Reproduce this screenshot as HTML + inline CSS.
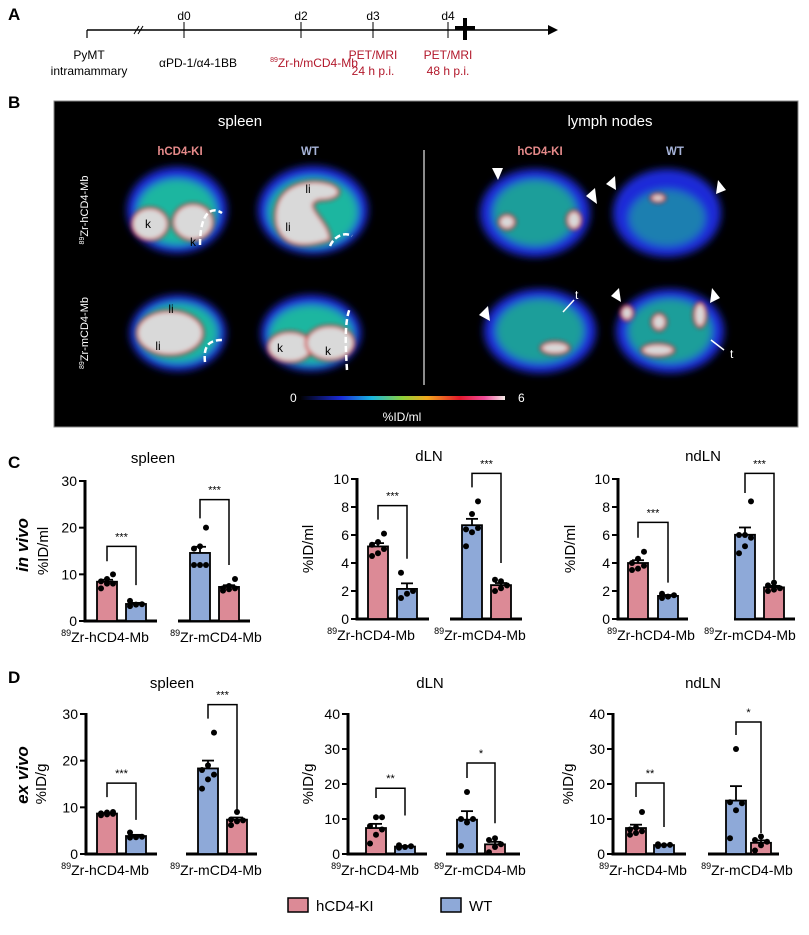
<!DOCTYPE html>
<html><head><meta charset="utf-8"><style>
body{margin:0;background:#fff;width:809px;height:930px;overflow:hidden;font-family:"Liberation Sans",Arial,sans-serif}
svg text{font-family:"Liberation Sans",Arial,sans-serif}
</style></head><body>
<svg id="fig" width="809" height="930" viewBox="0 0 809 930" xmlns="http://www.w3.org/2000/svg">
<defs>
<filter id="bl" x="-30%" y="-30%" width="160%" height="160%"><feGaussianBlur stdDeviation="4"/></filter>
<filter id="bl2" x="-30%" y="-30%" width="160%" height="160%"><feGaussianBlur stdDeviation="2"/></filter>
<linearGradient id="cbar" x1="0" x2="1"><stop offset="0" stop-color="#000"/><stop offset="0.2" stop-color="#1a2bd8"/><stop offset="0.35" stop-color="#19b6e0"/><stop offset="0.5" stop-color="#8ed13a"/><stop offset="0.62" stop-color="#f2a81d"/><stop offset="0.78" stop-color="#e3182c"/><stop offset="0.9" stop-color="#f04c9a"/><stop offset="1" stop-color="#f3eae6"/></linearGradient>
</defs>
<g>
<text x="8" y="20" font-size="17" font-weight="bold">A</text>
<line x1="87" y1="30" x2="548" y2="30" stroke="#000" stroke-width="1.5"/>
<polygon points="548,25 558,30 548,35" fill="#000"/>
<line x1="87" y1="30" x2="87" y2="38" stroke="#000" stroke-width="1.2"/>
<line x1="134" y1="34" x2="139" y2="26" stroke="#000"/><line x1="138" y1="34" x2="143" y2="26" stroke="#000"/>
<line x1="184" y1="22" x2="184" y2="38" stroke="#000"/>
<line x1="301" y1="22" x2="301" y2="38" stroke="#000"/>
<line x1="373" y1="22" x2="373" y2="38" stroke="#000"/>
<line x1="448" y1="22" x2="448" y2="38" stroke="#000"/>
<rect x="463" y="18" width="4" height="22" fill="#000"/><rect x="455" y="26" width="20" height="4" fill="#000"/>
<g font-size="12" text-anchor="middle">
<text x="184" y="20">d0</text><text x="301" y="20">d2</text><text x="373" y="20">d3</text><text x="448" y="20">d4</text>
<text x="89" y="59">PyMT</text><text x="89" y="75">intramammary</text>
<text x="198" y="67">αPD-1/α4-1BB</text>
<text x="314" y="67" fill="#b2182b"><tspan font-size="7" dy="-5">89</tspan><tspan dy="5">Zr-h/mCD4-Mb</tspan></text>
<text x="373" y="59" fill="#b2182b">PET/MRI</text><text x="373" y="75" fill="#b2182b">24 h p.i.</text>
<text x="448" y="59" fill="#b2182b">PET/MRI</text><text x="448" y="75" fill="#b2182b">48 h p.i.</text>
</g></g>
<g>
<text x="8" y="108" font-size="17" font-weight="bold">B</text>
<rect x="54" y="101" width="744" height="326" fill="#000" stroke="#888"/>
<text x="240" y="126" fill="#fff" font-size="15" text-anchor="middle">spleen</text>
<text x="610" y="126" fill="#fff" font-size="15" text-anchor="middle">lymph nodes</text>
<g font-size="11.5" font-weight="bold" text-anchor="middle">
<text x="180" y="155" fill="#e58a8a">hCD4-KI</text><text x="310" y="155" fill="#a7b4d9">WT</text>
<text x="540" y="155" fill="#e58a8a">hCD4-KI</text><text x="675" y="155" fill="#a7b4d9">WT</text></g>
<text transform="translate(88,210) rotate(-90)" fill="#fff" font-size="11" text-anchor="middle"><tspan font-size="7" dy="-4">89</tspan><tspan dy="4">Zr-hCD4-Mb</tspan></text>
<text transform="translate(88,333) rotate(-90)" fill="#fff" font-size="11" text-anchor="middle"><tspan font-size="7" dy="-4">89</tspan><tspan dy="4">Zr-mCD4-Mb</tspan></text>
<line x1="424" y1="150" x2="424" y2="385" stroke="#bbb" stroke-width="1.5"/>
<g filter="url(#bl)">
<ellipse cx="177" cy="210" rx="50" ry="43" fill="#1a2bd8"/><ellipse cx="177" cy="212" rx="40" ry="33" fill="#1eb6a0"/>
<ellipse cx="313" cy="210" rx="55" ry="44" fill="#1a2bd8"/><ellipse cx="313" cy="212" rx="45" ry="35" fill="#1eb6a0"/>
<ellipse cx="178" cy="333" rx="48" ry="38" fill="#1a2bd8"/><ellipse cx="178" cy="333" rx="40" ry="30" fill="#1eb6a0"/>
<ellipse cx="311" cy="333" rx="50" ry="38" fill="#1a2bd8"/><ellipse cx="311" cy="335" rx="42" ry="30" fill="#1eb6a0"/>
<ellipse cx="535" cy="213" rx="55" ry="44" fill="#1a2bd8"/><ellipse cx="535" cy="213" rx="42" ry="33" fill="#1e9e9a"/>
<ellipse cx="667" cy="213" rx="54" ry="44" fill="#1a2bd8"/><ellipse cx="667" cy="218" rx="38" ry="28" fill="#1a7fb0"/>
<ellipse cx="540" cy="331" rx="56" ry="42" fill="#1a2bd8"/><ellipse cx="540" cy="331" rx="44" ry="32" fill="#1e9e9a"/>
<ellipse cx="670" cy="331" rx="54" ry="42" fill="#1a2bd8"/><ellipse cx="670" cy="331" rx="42" ry="32" fill="#1e9e9a"/>
</g>
<g stroke="#d01a1a" stroke-width="2.5" fill="#d9d9d9" filter="url(#bl2)">
<ellipse cx="150" cy="224" rx="18" ry="16"/><ellipse cx="193" cy="222" rx="20" ry="18"/>
<path d="M276,225 C270,190 300,176 330,184 C345,190 340,200 320,200 C300,205 330,220 330,240 C300,250 282,245 276,225Z"/>
<ellipse cx="170" cy="333" rx="33" ry="22"/>
<ellipse cx="290" cy="347" rx="22" ry="15"/><ellipse cx="330" cy="343" rx="24" ry="17"/>
<ellipse cx="507" cy="222" rx="8" ry="7"/><ellipse cx="574" cy="220" rx="7" ry="9"/><ellipse cx="658" cy="198" rx="7" ry="4"/>
<ellipse cx="659" cy="322" rx="7" ry="8"/><ellipse cx="700" cy="315" rx="6" ry="12"/><ellipse cx="658" cy="350" rx="16" ry="6"/>
<ellipse cx="555" cy="348" rx="14" ry="6"/><ellipse cx="627" cy="313" rx="6" ry="7"/>
</g>
<g fill="#000" font-size="12" text-anchor="middle"><text x="148" y="228">k</text><text x="193" y="246">k</text><text x="308" y="193">li</text><text x="288" y="231">li</text><text x="171" y="313">li</text><text x="158" y="350">li</text><text x="280" y="352">k</text><text x="328" y="355">k</text></g>
<g fill="#fff"><polygon points="492,168 503,168 498,180"/><polygon points="606,184 615,176 616,190"/><polygon points="726,190 718,180 716,194"/><polygon points="586,196 595,188 597,204"/><polygon points="479,315 488,306 490,321"/><polygon points="611,296 619,288 621,302"/><polygon points="720,298 712,288 710,303"/></g>
<g stroke="#fff" stroke-width="1.5"><line x1="563" y1="312" x2="574" y2="300"/><line x1="711" y1="340" x2="724" y2="350"/></g>
<g fill="#fff" font-size="12"><text x="575" y="299">t</text><text x="730" y="358">t</text></g>
<g stroke="#fff" stroke-width="2.5" stroke-dasharray="6,3" fill="none"><path d="M200,245 C200,215 210,205 222,213"/><path d="M330,246 C335,235 345,232 352,236"/><path d="M205,362 C203,345 210,340 222,340"/><path d="M347,370 C345,340 345,320 350,308"/></g>
<rect x="300" y="396" width="205" height="4" fill="url(#cbar)"/>
<text x="290" y="402" fill="#fff" font-size="12">0</text><text x="518" y="402" fill="#fff" font-size="12">6</text>
<text x="402" y="421" fill="#fff" font-size="12" text-anchor="middle">%ID/ml</text>
</g>
<text x="8" y="468" font-size="17" font-weight="bold">C</text>
<text x="8" y="683" font-size="17" font-weight="bold">D</text>
<text transform="translate(28,545) rotate(-90)" font-size="17" font-weight="bold" font-style="italic" text-anchor="middle">in vivo</text>
<text transform="translate(28,775) rotate(-90)" font-size="17" font-weight="bold" font-style="italic" text-anchor="middle">ex vivo</text>
<g id="charts"></g>
<g>
<rect x="288" y="898" width="20" height="14" fill="#dc8a96" stroke="#000" stroke-width="1.5"/>
<text x="316" y="911" font-size="15">hCD4-KI</text>
<rect x="441" y="898" width="20" height="14" fill="#8ea9d8" stroke="#000" stroke-width="1.5"/>
<text x="469" y="911" font-size="15">WT</text>
</g>
</svg>
<script>
const chartIds=['c-spleen','c-dln','c-ndln','d-spleen','d-dln','d-ndln'];
const chartTitles=['spleen','dLN','ndLN','spleen','dLN','ndLN'];
const yMaxes=[30,10,10,30,40,40];
const tickLabels=[[0,10,20,30],[0,2,4,6,8,10],[0,2,4,6,8,10],[0,10,20,30],[0,10,20,30,40],[0,10,20,30,40]];
const groupLabels=['hCD4-Mb','mCD4-Mb'];
const pointsCSpleen=[[7,8,8,8.5,9,10],[3.2,3.5,3.6,4.3],[12,12,12,15.5,16,20],[6.5,6.8,7,7,7.5,9]];
const pointsCDln=[[4.5,4.7,5.0,5.3,5.5,6.1],[1.5,1.8,2.0,3.3],[5.2,6.2,6.5,6.4,7.5,8.4],[2.0,2.2,2.4,2.8,2.7]];
const pointsCNdln=[[3.5,3.6,3.8,4.0,4.3,4.8],[1.5,1.6,1.7,1.8],[4.7,5.2,5.8,6.0,6.0,8.4],[2.0,2.1,2.2,2.4,2.6]];
const pointsDSpleen=[[8.3,8.5,8.6,8.7,8.9,9.0],[3.5,3.6,3.7,4.6],[14,16,17,18,19,26],[6.2,7,7.2,7.4,9]];
const pointsDDln=[[3.0,5.5,7.0,8.0,10.5,10.5],[1.8,2.0,2.2,2.5],[2.3,9.0,10,10,17.7],[0.5,2.0,2.8,4.0,4.5]];
const pointsDNdln=[[5.5,6.0,6.5,7.0,7.5,12],[2.3,2.5,2.6,2.8],[4.5,12.5,14.5,14.8,30],[1.0,2.5,3.5,4.0,5.0]];
const allPoints=[pointsCSpleen,pointsCDln,pointsCNdln,pointsDSpleen,pointsDDln,pointsDNdln];
const bracketsG1=[[16,12.8,7.7],[8.1,7.1,4.3],[6.9,5.8,2.6],[15.2,12.2,7.3],[18.8,16,11],[20.3,16.3,7.7]];
const bracketsG2=[[26,22,12],[10.4,9.4,4.0],[10.4,9,2.8],[32,29,9.5],[26,21.7,8.8],[37.7,34,6]];
const starsG1=['***','***','***','***','**','**'];
const starsG2=['***','***','***','***','*','*'];
const yTitles=['%ID/ml','%ID/ml','%ID/ml','%ID/g','%ID/g','%ID/g'];
const L=[
 {ax:85,base:621,off:[12,41,105,134],g1:[0,72],g2:[93,165],lab:[105,216],title:[153,463],yt:48},
 {ax:357,base:619,off:[11,40,105,134],g1:[0,72],g2:[93,165],lab:[371,480],title:[429,461],yt:313},
 {ax:618,base:619,off:[10,40,117,146],g1:[0,70],g2:[116,177],lab:[651,750],title:[703,461],yt:575},
 {ax:86,base:854,off:[11,40,112,141],g1:[0,71],g2:[100,171],lab:[105,216],title:[172,688],yt:46},
 {ax:348,base:854,off:[18,47,109,137],g1:[0,79],g2:[98,172],lab:[375,480],title:[430,688],yt:313},
 {ax:613,base:854,off:[13,41,113,138],g1:[0,73],g2:[95,166],lab:[643,747],title:[703,688],yt:573}];
const colors=['#dc8a96','#8ea9d8','#8ea9d8','#dc8a96'];
const NS='http://www.w3.org/2000/svg';
const root=document.getElementById('charts');
function mk(tag,attrs,parent){const e=document.createElementNS(NS,tag);for(const k in attrs)e.setAttribute(k,attrs[k]);parent.appendChild(e);return e;}
chartIds.forEach((id,ci)=>{
 const l=L[ci],H=140,yMax=yMaxes[ci];
 const y=v=>l.base-v/yMax*H;
 const g=mk('g',{},root);
 
 
 const t=mk('text',{x:l.title[0],y:l.title[1],'font-size':15,'text-anchor':'middle'},g);t.textContent=chartTitles[ci];
 
 
 const yt=mk('text',{transform:`translate(${l.yt},${l.base-H/2}) rotate(-90)`,'font-size':15,'text-anchor':'middle'},g);yt.textContent=yTitles[ci];
 
 
 const axis=mk('line',{x1:l.ax,x2:l.ax,y1:y(yMax)-1,y2:l.base+1.5,stroke:'#000','stroke-width':3},g);
 
 
 tickLabels[ci].forEach(v=>{
  mk('line',{x1:l.ax-6,x2:l.ax,y1:y(v),y2:y(v),stroke:'#000','stroke-width':2},g);
  const tl=mk('text',{x:l.ax-8,y:y(v)+5,'font-size':14,'text-anchor':'end'},g);tl.textContent=v;
  
  
 });
 [l.g1,l.g2].forEach((gr,gi)=>{
  const bl=mk('line',{x1:l.ax+gr[0],x2:l.ax+gr[1],y1:l.base,y2:l.base,stroke:'#000','stroke-width':3},g);
  
  
  const xl=mk('text',{x:l.lab[gi],y:l.base+21,'font-size':14,'text-anchor':'middle'},g);
  xl.innerHTML='<tspan font-size="9" dy="-6">89</tspan><tspan dy="6">Zr-'+groupLabels[gi]+'</tspan>';
  
  
 });
 allPoints[ci].forEach((pts,bi)=>{
  const n=pts.length,mean=pts.reduce((a,b)=>a+b,0)/n;
  const sd=Math.sqrt(pts.reduce((a,b)=>a+(b-mean)**2,0)/(n-1)),sem=sd/Math.sqrt(n);
  const x0=l.ax+l.off[bi],w=20,cx=x0+w/2;
  const r=mk('rect',{x:x0,y:y(mean),width:w,height:l.base-y(mean),fill:colors[bi],stroke:'#000','stroke-width':1.8},g);
  
  
  mk('line',{x1:cx,x2:cx,y1:y(mean),y2:y(mean+sem),stroke:'#000','stroke-width':1.8},g);
  mk('line',{x1:cx-6,x2:cx+6,y1:y(mean+sem),y2:y(mean+sem),stroke:'#000','stroke-width':1.8},g);
  pts.forEach((v,pi)=>{
   const dx=((pi%3)-1)*6;
   const c=mk('circle',{cx:cx+dx,cy:y(v),r:3,fill:'#000'},g);
   
   
  });
 });
 [[bracketsG1[ci],0,1,starsG1[ci]],[bracketsG2[ci],2,3,starsG2[ci]]].forEach(([b,a,c,s])=>{
  const xa=l.ax+l.off[a]+10,xc=l.ax+l.off[c]+10;
  const p=mk('path',{d:`M${xa},${y(b[1])} V${y(b[0])} H${xc} V${y(b[2])}`,fill:'none',stroke:'#000','stroke-width':1.5},g);
  
  
  const st=mk('text',{x:(xa+xc)/2,y:y(b[0])-6,'font-size':11,'text-anchor':'middle'},g);st.textContent=s;
  
  
 });
});
</script>
</body></html>
